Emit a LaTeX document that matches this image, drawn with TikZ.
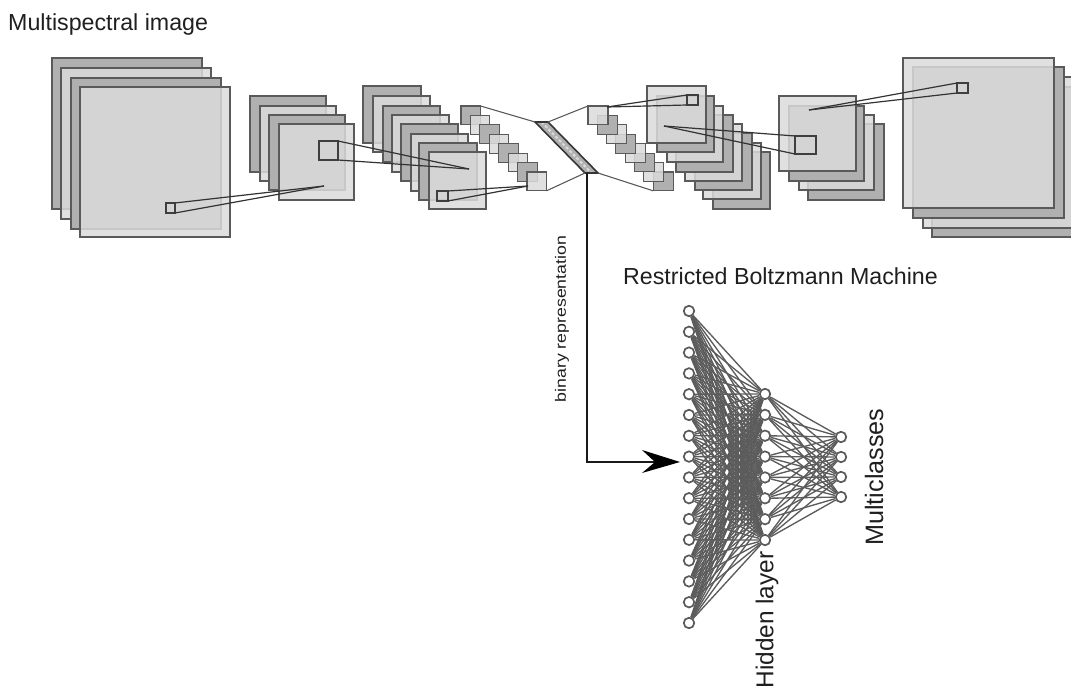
\documentclass[tikz,border=0pt]{standalone}
\usepackage{fontspec}
\setmainfont{Liberation Sans}
\definecolor{edgec}{HTML}{5A5A5A}
\definecolor{darksq}{HTML}{B0B0B0}
\definecolor{lightsq}{HTML}{DBDBDB}
\definecolor{netc}{HTML}{5C5C5C}
\tikzset{
  sqbase/.style={draw=edgec,line width=1.1pt,inner sep=0pt,outer sep=0pt,rectangle},
  darkbox/.style={sqbase,fill=darksq},
  lightbox/.style={sqbase,fill=lightsq,fill opacity=.85},
  kernelbox/.style={draw=edgec!70!black,line width=1.2pt,inner sep=0pt,outer sep=0pt,rectangle},
  kernelline/.style={draw=black!80,line width=1.2pt},
  linkline/.style={draw=edgec,line width=1.1pt},
  unit/.style={circle,draw=edgec,fill=white,line width=1.7pt,minimum size=10.5pt,inner sep=0pt},
  netline/.style={draw=netc,line width=1.35pt},
  lbl/.style={inner sep=0pt,text=black!88},
  mainarrow/.style={draw=black!90,line width=1.5pt},
}
% name, x1, y1, x2, y2, style
\newcommand{\sqbox}[6]{%
  \pgfmathsetmacro{\wid}{#4-#2}\pgfmathsetmacro{\hei}{#5-#3}%
  \node[#6,minimum width=\wid pt,minimum height=\hei pt] (#1) at ({(#2+#4)/2},{(#3+#5)/2}) {};}
\begin{document}
\begin{tikzpicture}[x=1pt,y=-1pt]
\useasboundingbox (0,0) rectangle (1071,687);
\clip (0,0) rectangle (1071,687);
% labels
\node[lbl,anchor=west,font=\fontsize{23.2}{23.2}\selectfont] (t1) at (8,25) {Multispectral image};
\node[lbl,anchor=west,font=\fontsize{23.2}{23.2}\selectfont] (t2) at (623,276) {Restricted Boltzmann Machine};
\node[lbl,rotate=90,font=\fontsize{15}{15}\selectfont] (t3) at (562,319) {\scalebox{1.18}[1]{binary representation}};
\node[lbl,rotate=90,font=\fontsize{24.4}{24.4}\selectfont] (t4) at (767,620) {Hidden layer};
\node[lbl,rotate=90,font=\fontsize{25.2}{25.2}\selectfont] (t5) at (874,477) {Multiclasses};
% stack A
\sqbox{a1}{52}{58}{202}{209}{darkbox}
\sqbox{a2}{61}{68}{211}{219}{lightbox}
\sqbox{a3}{71}{78}{221}{229}{darkbox}
\sqbox{a4}{80}{87}{230}{237}{lightbox}
% stack B
\sqbox{b1}{250}{96}{326}{172}{darkbox}
\sqbox{b2}{260}{106}{336}{181}{lightbox}
\sqbox{b3}{269}{115}{345}{190}{darkbox}
\sqbox{b4}{279}{124}{354}{200}{lightbox}
% stack C
\sqbox{c1}{363}{86}{421}{143}{darkbox}
\sqbox{c2}{373}{96}{430}{152}{lightbox}
\sqbox{c3}{383}{106}{440}{162}{darkbox}
\sqbox{c4}{392}{115}{449}{172}{lightbox}
\sqbox{c5}{401}{124}{458}{181}{darkbox}
\sqbox{c6}{411}{134}{468}{191}{lightbox}
\sqbox{c7}{419}{143}{477}{200}{darkbox}
\sqbox{c8}{429}{152}{486}{209}{lightbox}
% stack D
\foreach \i [evaluate=\i as \xa using {461+9.43*(\i-1)},evaluate=\i as \ya using {106+9.43*(\i-1)}] in {1,...,8}{
  \pgfmathsetmacro{\xb}{\xa+19.5}\pgfmathsetmacro{\yb}{\ya+18.8}
  \pgfmathparse{int(mod(\i,2))}
  \ifnum\pgfmathresult=1 \sqbox{d\i}{\xa}{\ya}{\xb}{\yb}{darkbox}\else \sqbox{d\i}{\xa}{\ya}{\xb}{\yb}{lightbox}\fi
}
% stack H, G, F, E: back to front
\sqbox{h4}{932}{87}{1082}{237}{darkbox}
\sqbox{h3}{923}{77}{1073}{228}{lightbox}
\sqbox{h2}{913}{67}{1064}{218}{darkbox}
\sqbox{h1}{903}{58}{1054}{208}{lightbox}
\sqbox{g4}{808}{124}{884}{200}{darkbox}
\sqbox{g3}{799}{115}{874}{190}{lightbox}
\sqbox{g2}{789}{106}{864}{181}{darkbox}
\sqbox{g1}{779}{96}{856}{171}{lightbox}
\sqbox{f8}{713}{152}{770}{209}{darkbox}
\sqbox{f7}{703}{143}{761}{199}{lightbox}
\sqbox{f6}{695}{133}{752}{190}{darkbox}
\sqbox{f5}{685}{124}{742}{181}{lightbox}
\sqbox{f4}{676}{115}{733}{172}{darkbox}
\sqbox{f3}{667}{106}{723}{162}{lightbox}
\sqbox{f2}{657}{96}{714}{152}{darkbox}
\sqbox{f1}{647}{86}{706}{143}{lightbox}
\foreach \i [evaluate=\i as \xa using {588+9.3*(8-\i)},evaluate=\i as \ya using {106+9.43*(8-\i)}] in {1,...,8}{
  \pgfmathsetmacro{\xb}{\xa+20}\pgfmathsetmacro{\yb}{\ya+18.8}
  \pgfmathparse{int(mod(\i,2))}
  \ifnum\pgfmathresult=1 \sqbox{e\i}{\xa}{\ya}{\xb}{\yb}{darkbox}\else \sqbox{e\i}{\xa}{\ya}{\xb}{\yb}{lightbox}\fi
}
% bottleneck
\coordinate (pa) at (535,122);
\coordinate (pb) at (548,122);
\coordinate (pc) at (598,173);
\coordinate (pd) at (585,173);
\fill[darksq] (pa) -- (pb) -- (pc) -- (pd) -- cycle;
\draw[lightsq,line width=2pt,dash pattern=on 3pt off 2pt] (541.5,122) -- (591.5,173);
\draw[edgec!60!black,line width=1.6pt] (pa) -- (pb) -- (pc) -- (pd) -- cycle;
\draw[linkline] (d1.north east) -- (pa);
\draw[linkline] (d8.south east) -- (pd);
\draw[linkline] (pb) -- (e8.north west);
\draw[linkline] (pc) -- (e1.south west);
% kernels and apexes
\sqbox{k1}{166}{203}{175}{213}{kernelbox}
\coordinate (x1) at (324,186);
\draw[kernelline] (k1.north east) -- (x1);
\draw[kernelline] (k1.south east) -- (x1);
\sqbox{k2}{319}{141}{338}{160}{kernelbox}
\coordinate (x2) at (469,169);
\draw[kernelline] (k2.north east) -- (x2);
\draw[kernelline] (k2.south east) -- (x2);
\sqbox{k3}{437}{191}{448}{201}{kernelbox}
\coordinate (x3) at (528,186);
\draw[kernelline] (k3.north east) -- (x3);
\draw[kernelline] (k3.south east) -- (x3);
\sqbox{k4}{687}{95}{698}{105}{kernelbox}
\coordinate (x4) at (607,107);
\draw[kernelline] (k4.north west) -- (x4);
\draw[kernelline] (k4.south west) -- (x4);
\sqbox{k5}{795}{136}{816}{154}{kernelbox}
\coordinate (x5) at (664,126);
\draw[kernelline] (k5.north west) -- (x5);
\draw[kernelline] (k5.south west) -- (x5);
\sqbox{k6}{957}{83}{968}{93}{kernelbox}
\coordinate (x6) at (809,110);
\draw[kernelline] (k6.north west) -- (x6);
\draw[kernelline] (k6.south west) -- (x6);
% RBM
\foreach \i [evaluate=\i as \yy using {311+20.8*(\i-1)}] in {1,...,16}
  \node[unit] (v\i) at (689,\yy) {};
\foreach \i [evaluate=\i as \yy using {394+20.86*(\i-1)}] in {1,...,8}
  \node[unit] (n\i) at (765,\yy) {};
\foreach \i [evaluate=\i as \yy using {437+20*(\i-1)}] in {1,...,4}
  \node[unit] (m\i) at (841,\yy) {};
\foreach \i in {1,...,16} \foreach \j in {1,...,8} \draw[netline] (v\i) -- (n\j);
\foreach \i in {1,...,8} \foreach \j in {1,...,4} \draw[netline] (n\i) -- (m\j);
% main arrow
\coordinate (bend) at (587,462);
\coordinate (start) at (587,173);
\coordinate (tail) at (656,462);
\draw[mainarrow] (start) -- (bend) -- (tail);
\fill[black] (680,462) coordinate (tip) -- (642,450) -- (655,462) -- (642,473) -- cycle;
\end{tikzpicture}
\end{document}
